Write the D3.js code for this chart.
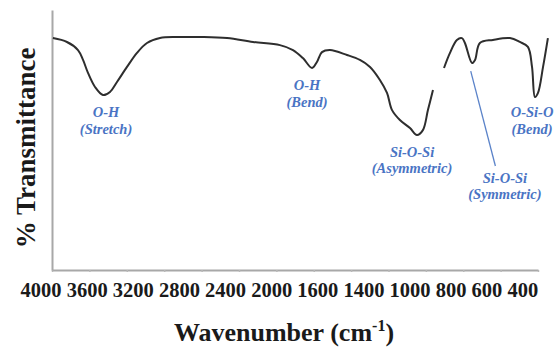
<!DOCTYPE html>
<html>
<head>
<meta charset="utf-8">
<script src="https://cdn.jsdelivr.net/npm/d3@7"></script>
<style>
  body { margin: 0; background: #fff; }
  svg { display: block; }
</style>
</head>
<body>
<div class="res"></div>
<script>
// wavenumber (cm-1) and % transmittance
// null splits the trace where the spectrum is broken near 930 cm-1
const wavenumbers = [3990, 3840, 3722, 3668, 3615, 3540, 3455, 3380, 3305, 3198, 3091, 2984, 2845, 2663, 2417, 2128,
    1925, 1781, 1711, 1658, 1609, 1583, 1556, 1513, 1422, 1353, 1299, 1246, 1208, 1181, 1139, 1085, 1048, 1016, 989, 962,
    930,
    903, 871, 834, 807, 791, 753, 737, 711, 641, 550, 497, 454, 432, 416, 400, 373, 347];
const transmittance = [89.2, 87.7, 84.6, 80.8, 75.8, 70.4, 67.3, 68.5, 72.3, 78.1, 83.5, 87.3, 89.2, 89.6, 89.6, 89.2,
    87.7, 86.5, 84.6, 81.5, 77.7, 80.0, 83.8, 84.6, 82.7, 80.8, 78.1, 73.1, 68.1, 61.5, 57.7, 54.6, 51.9, 53.8, 61.5, 69.2,
    null,
    77.7, 83.5, 88.5, 89.2, 87.3, 79.6, 80.8, 87.3, 88.5, 89.2, 87.7, 85.8, 78.1, 66.5, 68.1, 78.1, 89.2];

// tick marks sit on a two-part scale, the printed labels are a separate row
const tickMarks = [4000, 3600, 3200, 2800, 2400, 2000, 1800, 1600, 1400, 1200, 1000, 800, 600, 400];
const tickLabels = ['4000', '3600', '3200', '2800', '2400', '2000', '1600', '1400', '1000', '800', '600', '400'];

// band labels: [line 1, line 2, wavenumber, transmittance of first baseline]
const peakNames = [
    ['O-H', '(Stretch)', 3422, 58.8],
    ['O-H', '(Bend)', 1636, 69.2],
    ['Si-O-Si', '(Asymmetric)', 1074, 43.5],
    ['Si-O-Si', '(Symmetric)', 577, 33.5],
    ['O-Si-O', '(Bend)', 432, 58.8]
];
// leader line for the symmetric stretch: from the dip down to its label
const leader = [[760, 76.5], [628, 40.0]];

const W = 560, H = 347;
const svg = d3.select('div.res').append('svg')
    .attr('width', W)
    .attr('height', H);

// x: 4000-2000 compressed, 2000-400 expanded (typical FTIR layout)
const x = d3.scaleLinear()
    .domain([4000, 2000, 400])
    .range([52, 239, 538]);

const y = d3.scaleLinear()
    .domain([0, 100])
    .range([270, 10]);

/**
 * AXES
 */
const xAxis = d3.axisBottom(x)
    .tickValues(tickMarks)
    .tickSize(2)
    .tickSizeOuter(0)
    .tickFormat('');

const gx = svg.append('g')
    .attr('transform', `translate(0, ${y(0)})`)
    .call(xAxis);
gx.select('.domain').attr('stroke', '#a8a8a8').attr('stroke-width', 2);
gx.selectAll('.tick line').attr('stroke', '#b8b8b8').attr('stroke-width', 1.5);

const yAxis = d3.axisLeft(y)
    .tickValues([])
    .tickSizeOuter(0);

const gy = svg.append('g')
    .attr('transform', `translate(${x(4000)}, 0)`)
    .call(yAxis);
gy.select('.domain').attr('stroke', '#a8a8a8').attr('stroke-width', 2);

// tick label row: packed like typed text, so centres follow the label widths
const labelFont = 20.5;
let cursor = 20;
const labelCentres = tickLabels.map(t => {
    const w = t.length * labelFont * 0.5;
    const c = cursor + w / 2;
    cursor += w + labelFont * 0.25;
    return c;
});
const labelScale = d3.scaleOrdinal(tickLabels, labelCentres);

const gl = svg.append('g')
    .attr('transform', `translate(0, ${y(0)})`)
    .call(d3.axisBottom(labelScale).tickSize(0).tickPadding(0));
gl.select('.domain').remove();
gl.selectAll('text')
    .attr('y', 27)
    .attr('dy', 0)
    .style('font-family', '"Liberation Serif", "Times New Roman", serif')
    .style('font-weight', 'bold')
    .style('font-size', labelFont + 'px')
    .attr('fill', '#1a1a1a');

/**
 * SPECTRUM
 */
const spectrum = wavenumbers.map((w, i) => ({ w: w, t: transmittance[i] }));
const line = d3.line()
    .defined(d => d.t !== null)
    .x(d => x(d.w))
    .y(d => y(d.t))
    .curve(d3.curveCatmullRom.alpha(0.5));

svg.append('path')
    .datum(spectrum)
    .attr('d', line)
    .attr('fill', 'none')
    .attr('stroke', '#2e2e2e')
    .attr('stroke-width', 2)
    .attr('stroke-linejoin', 'round');

/**
 * BAND LABELS
 */
svg.append('line')
    .attr('x1', x(leader[0][0])).attr('y1', y(leader[0][1]))
    .attr('x2', x(leader[1][0])).attr('y2', y(leader[1][1]))
    .attr('stroke', '#5b83c9')
    .attr('stroke-width', 1.3);

const names = svg.append('g')
    .style('font-family', '"Liberation Serif", "Times New Roman", serif')
    .style('font-style', 'italic')
    .style('font-weight', 'bold')
    .style('font-size', '14.5px')
    .attr('fill', '#4a74c4')
    .attr('text-anchor', 'middle');

peakNames.forEach(p => {
    const t = names.append('text')
        .attr('x', x(p[2]))
        .attr('y', y(p[3]));
    t.append('tspan').attr('x', x(p[2])).text(p[0]);
    t.append('tspan').attr('x', x(p[2])).attr('dy', 16.5).text(p[1]);
});

/**
 * AXIS TITLES
 */
svg.append('text')
    .attr('transform', `translate(35, 148) rotate(-90)`)
    .attr('text-anchor', 'middle')
    .style('font-family', '"Liberation Serif", "Times New Roman", serif')
    .style('font-weight', 'bold')
    .style('font-size', '27px')
    .attr('fill', '#1a1a1a')
    .text('% Transmittance');

const xt = svg.append('text')
    .attr('x', 284)
    .attr('y', 341)
    .attr('text-anchor', 'middle')
    .style('font-family', '"Liberation Serif", "Times New Roman", serif')
    .style('font-weight', 'bold')
    .style('font-size', '26px')
    .attr('fill', '#1a1a1a');
xt.append('tspan').text('Wavenumber (cm');
xt.append('tspan').attr('dy', -10).style('font-size', '16px').text('-1');
xt.append('tspan').attr('dy', 10).text(')');
</script>
</body>
</html>
